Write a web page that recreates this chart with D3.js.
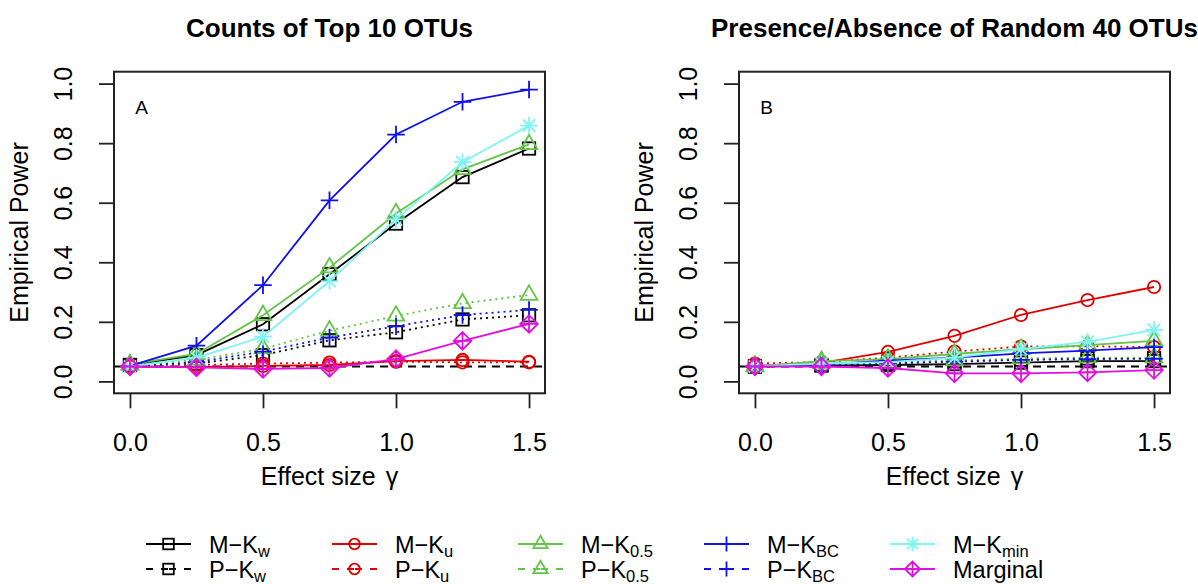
<!DOCTYPE html>
<html>
<head>
<meta charset="utf-8">
<script src="https://cdn.jsdelivr.net/npm/d3@7"></script>
<style>
  html, body { margin: 0; padding: 0; background: #fff; }
  svg { display: block; font-family: "Liberation Sans", Arial, Helvetica, sans-serif; }
</style>
</head>
<body>
<svg id="chart" width="1198" height="584"></svg>
<script>
// Effect sizes on the x axis
const gamma = [0, 0.25, 0.5, 0.75, 1.0, 1.25, 1.5];
const xTicks = [0, 0.5, 1.0, 1.5];
const yTicks = [0, 0.2, 0.4, 0.6, 0.8, 1.0];
const alphaLevel = 0.05;

const panelTitles = ["Counts of Top 10 OTUs", "Presence/Absence of Random 40 OTUs"];
const panelTags = ["A", "B"];

// Panel A: counts of the top 10 OTUs
const mKwA   = [0.055, 0.088, 0.192, 0.360, 0.530, 0.686, 0.782];
const pKwA   = [0.055, 0.060, 0.088, 0.138, 0.165, 0.208, 0.222];
const mKuA   = [0.050, 0.048, 0.052, 0.055, 0.068, 0.072, 0.066];
const pKuA   = [0.056, 0.055, 0.060, 0.063, 0.066, 0.064, 0.064];
const mK05A  = [0.057, 0.092, 0.222, 0.382, 0.564, 0.712, 0.796];
const pK05A  = [0.055, 0.072, 0.110, 0.170, 0.220, 0.262, 0.290];
const mKbcA  = [0.052, 0.120, 0.323, 0.608, 0.829, 0.939, 0.980];
const pKbcA  = [0.050, 0.065, 0.100, 0.147, 0.185, 0.223, 0.240];
const mKminA = [0.050, 0.080, 0.150, 0.337, 0.544, 0.736, 0.859];
const margA  = [0.050, 0.047, 0.042, 0.045, 0.075, 0.136, 0.193];

// Panel B: presence/absence of 40 random OTUs
const mKwB   = [0.050, 0.053, 0.055, 0.058, 0.063, 0.068, 0.068];
const pKwB   = [0.050, 0.055, 0.060, 0.068, 0.073, 0.077, 0.078];
const mKuB   = [0.052, 0.062, 0.099, 0.153, 0.223, 0.273, 0.317];
const pKuB   = [0.060, 0.065, 0.080, 0.100, 0.117, 0.118, 0.115];
const mK05B  = [0.050, 0.068, 0.075, 0.092, 0.108, 0.122, 0.136];
const pK05B  = [0.052, 0.060, 0.065, 0.070, 0.077, 0.080, 0.080];
const mKbcB  = [0.050, 0.057, 0.070, 0.080, 0.094, 0.103, 0.115];
const pKbcB  = [0.050, 0.055, 0.062, 0.066, 0.072, 0.075, 0.076];
const mKminB = [0.050, 0.060, 0.065, 0.080, 0.108, 0.133, 0.173];
const margB  = [0.050, 0.050, 0.045, 0.027, 0.027, 0.030, 0.038];

// Series names (main part + subscript)
const seriesNames = [
  ["M\u2212K", "w"], ["P\u2212K", "w"],
  ["M\u2212K", "u"], ["P\u2212K", "u"],
  ["M\u2212K", "0.5"], ["P\u2212K", "0.5"],
  ["M\u2212K", "BC"], ["P\u2212K", "BC"],
  ["M\u2212K", "min"], ["Marginal", ""]
];
const seriesColors = ["#000000", "#000000", "#E00000", "#E00000", "#64C447", "#64C447",
                      "#1010EC", "#1010EC", "#7EF4F4", "#E010E0"];
const seriesShapes = ["square", "square", "circle", "circle", "triangle", "triangle",
                      "plus", "plus", "asterisk", "diamondPlus"];
const seriesPermutation = [false, true, false, true, false, true, false, true, false, false];
const panelValues = [
  [mKwA, pKwA, mKuA, pKuA, mK05A, pK05A, mKbcA, pKbcA, mKminA, margA],
  [mKwB, pKwB, mKuB, pKuB, mK05B, pK05B, mKbcB, pKbcB, mKminB, margB]
];

const svg = d3.select("#chart");
svg.append("rect").attr("width", 1198).attr("height", 584).attr("fill", "#fff");

const LW = 1.8;

// R-like plotting symbols
function drawSymbol(g, shape, cx, cy, R, color) {
  const s = g.append("g").attr("fill", "none").attr("stroke", color).attr("stroke-width", LW);
  const a = Math.SQRT2 * R;
  if (shape === "square") {
    s.append("rect").attr("x", cx - R).attr("y", cy - R).attr("width", 2 * R).attr("height", 2 * R);
  } else if (shape === "circle") {
    s.append("circle").attr("cx", cx).attr("cy", cy).attr("r", R);
  } else if (shape === "triangle") {
    const r = 1.5551 * R, xc = r * 0.8660, yc = r / 2;
    s.append("polygon").attr("points",
      [[cx, cy - r], [cx + xc, cy + yc], [cx - xc, cy + yc]].map(p => p.join(",")).join(" "));
  } else if (shape === "plus") {
    s.append("path").attr("d", `M${cx - a},${cy}H${cx + a}M${cx},${cy - a}V${cy + a}`);
  } else if (shape === "asterisk") {
    s.append("path").attr("d",
      `M${cx - a},${cy}H${cx + a}M${cx},${cy - a}V${cy + a}` +
      `M${cx - R},${cy - R}L${cx + R},${cy + R}M${cx - R},${cy + R}L${cx + R},${cy - R}`);
  } else if (shape === "diamondPlus") {
    s.append("path").attr("d",
      `M${cx - a},${cy}L${cx},${cy - a}L${cx + a},${cy}L${cx},${cy + a}Z` +
      `M${cx - a},${cy}H${cx + a}M${cx},${cy - a}V${cy + a}`);
  }
}

const panels = [
  { left: 114, right: 545 },
  { left: 739, right: 1170 }
];
const plotTop = 71.7, plotBottom = 393.3;

panels.forEach((p, pi) => {
  const x = d3.scaleLinear().domain([-0.06, 1.56]).range([p.left, p.right]);
  const y = d3.scaleLinear().domain([-0.04, 1.04]).range([plotBottom, plotTop]);
  const g = svg.append("g");

  // reference line at the nominal level
  g.append("line")
    .attr("x1", p.left).attr("x2", p.right)
    .attr("y1", y(alphaLevel)).attr("y2", y(alphaLevel))
    .attr("stroke", "#000").attr("stroke-width", LW).attr("stroke-dasharray", "8,6");

  const line = d3.line().x((d, i) => x(gamma[i])).y(d => y(d));

  panelValues[pi].forEach((vals, si) => {
    const col = seriesColors[si];
    g.append("path").datum(vals)
      .attr("d", line)
      .attr("fill", "none")
      .attr("stroke", col)
      .attr("stroke-width", LW)
      .attr("stroke-dasharray", seriesPermutation[si] ? "2,4" : null);
    vals.forEach((v, i) => drawSymbol(g, seriesShapes[si], x(gamma[i]), y(v), 6.2, col));
  });

  // frame
  svg.append("rect")
    .attr("x", p.left).attr("y", plotTop)
    .attr("width", p.right - p.left).attr("height", plotBottom - plotTop)
    .attr("fill", "none").attr("stroke", "#222").attr("stroke-width", 2);

  // x axis
  const ax = svg.append("g").attr("transform", `translate(0,${plotBottom})`)
    .call(d3.axisBottom(x).tickValues(xTicks).tickSize(15).tickPadding(25).tickFormat(d3.format(".1f")));
  ax.select(".domain").remove();
  ax.selectAll(".tick line").attr("stroke", "#222").attr("stroke-width", 1.8);
  ax.selectAll(".tick text").attr("font-size", 25).attr("fill", "#000")
    .attr("font-family", "Liberation Sans, Arial, sans-serif");

  // y axis with labels parallel to the axis
  const ay = svg.append("g").attr("transform", `translate(${p.left},0)`)
    .call(d3.axisLeft(y).tickValues(yTicks).tickSize(15).tickFormat(d3.format(".1f")));
  ay.select(".domain").remove();
  ay.selectAll(".tick line").attr("stroke", "#222").attr("stroke-width", 1.8);
  ay.selectAll(".tick text")
    .attr("font-size", 25).attr("fill", "#000")
    .attr("font-family", "Liberation Sans, Arial, sans-serif")
    .attr("transform", "rotate(-90)")
    .attr("x", 0).attr("y", -42).attr("dy", 0)
    .attr("text-anchor", "middle");

  // axis titles
  const cx = (p.left + p.right) / 2;
  const xl = svg.append("text").attr("x", cx).attr("y", 485)
    .attr("text-anchor", "middle").attr("font-size", 25).attr("fill", "#000");
  xl.append("tspan").text("Effect size");
  xl.append("tspan").attr("dx", 10).text("\u03B3");

  svg.append("text")
    .attr("transform", `translate(${p.left - 86},${(plotTop + plotBottom) / 2}) rotate(-90)`)
    .attr("text-anchor", "middle").attr("font-size", 25).attr("fill", "#000")
    .text("Empirical Power");

  // panel title
  svg.append("text").attr("x", cx).attr("y", 37)
    .attr("text-anchor", "middle").attr("font-size", 26).attr("font-weight", "bold")
    .attr("fill", "#000").text(panelTitles[pi]);

  // panel tag
  svg.append("text").attr("x", p.left + 27.7).attr("y", 113.5)
    .attr("text-anchor", "middle").attr("font-size", 19).attr("fill", "#000")
    .text(panelTags[pi]);
});

// legend: five columns, two rows
const legendX0 = 146, legendDX = 186, legendRows = [544, 569];
seriesNames.forEach((nm, si) => {
  const col = Math.floor(si / 2), row = si % 2;
  const lx = legendX0 + col * legendDX, ly = legendRows[row];
  const c = seriesColors[si];
  const g = svg.append("g");
  const mid = lx + 22.5;
  if (seriesPermutation[si]) {
    g.append("line").attr("x1", lx).attr("x2", mid).attr("y1", ly).attr("y2", ly)
      .attr("stroke", c).attr("stroke-width", LW).attr("stroke-dasharray", "7,8");
    g.append("line").attr("x1", lx + 45).attr("x2", mid).attr("y1", ly).attr("y2", ly)
      .attr("stroke", c).attr("stroke-width", LW).attr("stroke-dasharray", "7,8");
  } else {
    g.append("line").attr("x1", lx).attr("x2", lx + 45).attr("y1", ly).attr("y2", ly)
      .attr("stroke", c).attr("stroke-width", LW);
  }
  drawSymbol(g, seriesShapes[si], mid, ly, 5.3, c);
  const t = g.append("text").attr("x", lx + 63).attr("y", ly + 8.5)
    .attr("font-size", 23.5).attr("fill", "#000");
  t.append("tspan").text(nm[0]);
  if (nm[1]) t.append("tspan").attr("font-size", 16.5).attr("dy", 4).text(nm[1]);
});
</script>
</body>
</html>
